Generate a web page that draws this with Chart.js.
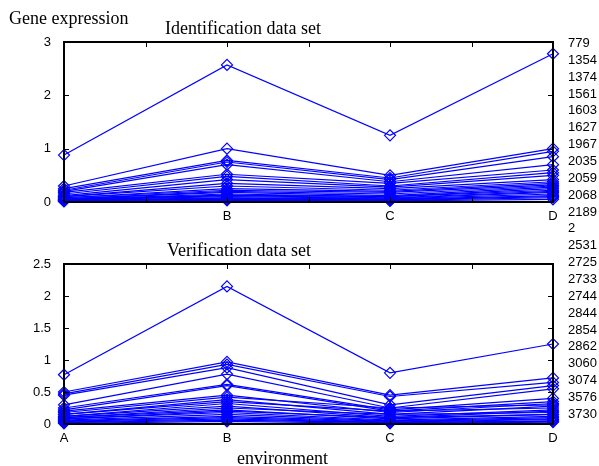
<!DOCTYPE html>
<html lang="en">
<head>
    <meta charset="UTF-8">
    <title>Gene expression</title>
    <script src="https://cdn.jsdelivr.net/npm/chart.js"></script>
    <style>
        body { margin: 0; background: #fff; }
        #page { position: relative; width: 599px; height: 466px; overflow: hidden; }
        canvas { position: absolute; left: 0; }
        .txt { position: absolute; font-family: "Liberation Serif", "Times New Roman", serif; font-size: 18px; line-height: 20px; color: #000; white-space: nowrap; }
        .name { position: absolute; left: 568px; font-family: "Liberation Sans", Arial, sans-serif; font-size: 13px; line-height: 14px; color: #000; }
    </style>
</head>
<body>
<div id="page">
    <canvas id="topChart" width="599" height="240" style="top:0"></canvas>
    <canvas id="bottomChart" width="599" height="241" style="top:225px"></canvas>
    <div class="txt" style="left:9px; top:8px">Gene expression</div>
    <div class="txt" style="left:165px; top:18px">Identification data set</div>
    <div class="txt" style="left:167px; top:240px">Verification data set</div>
    <div class="txt" style="left:237px; top:448px">environment</div>
    <div id="names"></div>
</div>

<script>
    // series names shown down the right side
    const seriesNames = ['779', '1354', '1374', '1561', '1603', '1627', '1967', '2035', '2059', '2068', '2189', '2',
        '2531', '2725', '2733', '2744', '2844', '2854', '2862', '3060', '3074', '3576', '3730'];

    const topXLabels = ['', 'B', 'C', 'D'];
    const bottomXLabels = ['A', 'B', 'C', 'D'];

    // Identification data set, values at A, B, C, D
    const identSeries = [
        [0.88, 2.57, 1.25, 2.78],
        [0.30, 1.00, 0.50, 1.00],
        [0.25, 0.78, 0.45, 0.95],
        [0.22, 0.75, 0.42, 0.85],
        [0.20, 0.70, 0.38, 0.70],
        [0.18, 0.52, 0.35, 0.60],
        [0.15, 0.48, 0.30, 0.55],
        [0.12, 0.42, 0.28, 0.50],
        [0.10, 0.35, 0.25, 0.42],
        [0.10, 0.30, 0.22, 0.38],
        [0.08, 0.25, 0.20, 0.35],
        [0.08, 0.22, 0.18, 0.32],
        [0.06, 0.20, 0.15, 0.30],
        [0.06, 0.18, 0.12, 0.28],
        [0.05, 0.15, 0.10, 0.25],
        [0.05, 0.13, 0.10, 0.22],
        [0.04, 0.12, 0.08, 0.20],
        [0.04, 0.10, 0.07, 0.18],
        [0.03, 0.08, 0.06, 0.15],
        [0.03, 0.07, 0.05, 0.12],
        [0.02, 0.06, 0.04, 0.10],
        [0.02, 0.05, 0.03, 0.08],
        [0.01, 0.03, 0.02, 0.05]
    ];

    // Verification data set, values at A, B, C, D
    const verifSeries = [
        [0.77, 2.15, 0.80, 1.25],
        [0.50, 0.97, 0.45, 0.72],
        [0.47, 0.93, 0.43, 0.65],
        [0.45, 0.88, 0.30, 0.60],
        [0.30, 0.78, 0.25, 0.55],
        [0.25, 0.62, 0.22, 0.40],
        [0.22, 0.60, 0.20, 0.35],
        [0.20, 0.45, 0.18, 0.32],
        [0.18, 0.42, 0.25, 0.30],
        [0.15, 0.38, 0.15, 0.28],
        [0.15, 0.35, 0.20, 0.25],
        [0.12, 0.32, 0.12, 0.22],
        [0.12, 0.28, 0.10, 0.20],
        [0.10, 0.25, 0.15, 0.18],
        [0.10, 0.22, 0.08, 0.15],
        [0.08, 0.20, 0.10, 0.15],
        [0.08, 0.18, 0.06, 0.12],
        [0.06, 0.15, 0.05, 0.10],
        [0.05, 0.12, 0.04, 0.08],
        [0.04, 0.10, 0.03, 0.07],
        [0.03, 0.08, 0.02, 0.05],
        [0.02, 0.06, 0.02, 0.04],
        [0.01, 0.04, 0.01, 0.03]
    ];

    // names list
    const namesBox = document.getElementById('names');
    seriesNames.forEach((n, i) => {
        const d = document.createElement('div');
        d.className = 'name';
        d.style.top = (36 + i * 16.86) + 'px';
        d.textContent = n;
        namesBox.appendChild(d);
    });

    // matlab-like box with inward ticks
    const boxTicks = {
        id: 'boxTicks',
        afterDatasetsDraw(chart) {
            const { ctx, chartArea: a, scales: { x, y } } = chart;
            ctx.save();
            ctx.strokeStyle = '#000';
            ctx.lineWidth = 1;
            ctx.beginPath();
            x.ticks.forEach(t => {
                const px = Math.round(x.getPixelForValue(t.value)) + 0.5;
                ctx.moveTo(px, a.bottom); ctx.lineTo(px, a.bottom - 5);
                ctx.moveTo(px, a.top); ctx.lineTo(px, a.top + 5);
            });
            y.ticks.forEach(t => {
                const py = Math.round(y.getPixelForValue(t.value)) + 0.5;
                ctx.moveTo(a.left, py); ctx.lineTo(a.left + 5, py);
                ctx.moveTo(a.right, py); ctx.lineTo(a.right - 5, py);
            });
            ctx.stroke();
            ctx.lineWidth = 2;
            ctx.strokeRect(a.left, a.top, a.right - a.left, a.bottom - a.top);
            ctx.restore();
        }
    };

    function makeChart(id, series, xLabels, yMax, yStep, padTop, padBottom) {
        const datasets = series.map((vals, i) => ({
            label: seriesNames[i],
            data: vals.map((v, j) => ({ x: j + 1, y: v })),
            borderColor: '#0000ff',
            borderWidth: 1.2,
            backgroundColor: 'rgba(0,0,0,0)',
            pointStyle: 'rectRot',
            pointRadius: 5.5,
            pointBorderWidth: 1.2,
            pointBorderColor: '#0000ff',
            tension: 0,
            clip: false
        }));
        const tickFont = { family: '"Liberation Sans", Arial, sans-serif', size: 13 };
        return new Chart(document.getElementById(id), {
            type: 'line',
            data: { datasets },
            options: {
                responsive: false,
                animation: false,
                devicePixelRatio: 1,
                layout: { padding: { left: 0, right: 46, top: padTop, bottom: padBottom } },
                plugins: { legend: { display: false }, tooltip: { enabled: false } },
                scales: {
                    x: {
                        type: 'linear', min: 1, max: 4,
                        grid: { display: false }, border: { display: false },
                        ticks: {
                            stepSize: 0.5, autoSkip: false, maxRotation: 0, color: '#000', font: tickFont, padding: -1,
                            callback: v => Number.isInteger(v) ? xLabels[v - 1] : ''
                        },
                        afterFit: s => { s.height = 23; }
                    },
                    y: {
                        min: 0, max: yMax,
                        grid: { display: false }, border: { display: false },
                        ticks: { stepSize: yStep, color: '#000', font: tickFont, padding: 5, callback: v => String(v) },
                        afterFit: s => { s.width = 64; }
                    }
                }
            },
            plugins: [boxTicks]
        });
    }

    makeChart('topChart', identSeries, topXLabels, 3, 1, 42, 15);
    makeChart('bottomChart', verifSeries, bottomXLabels, 2.5, 0.5, 39, 19);
</script>
</body>
</html>
